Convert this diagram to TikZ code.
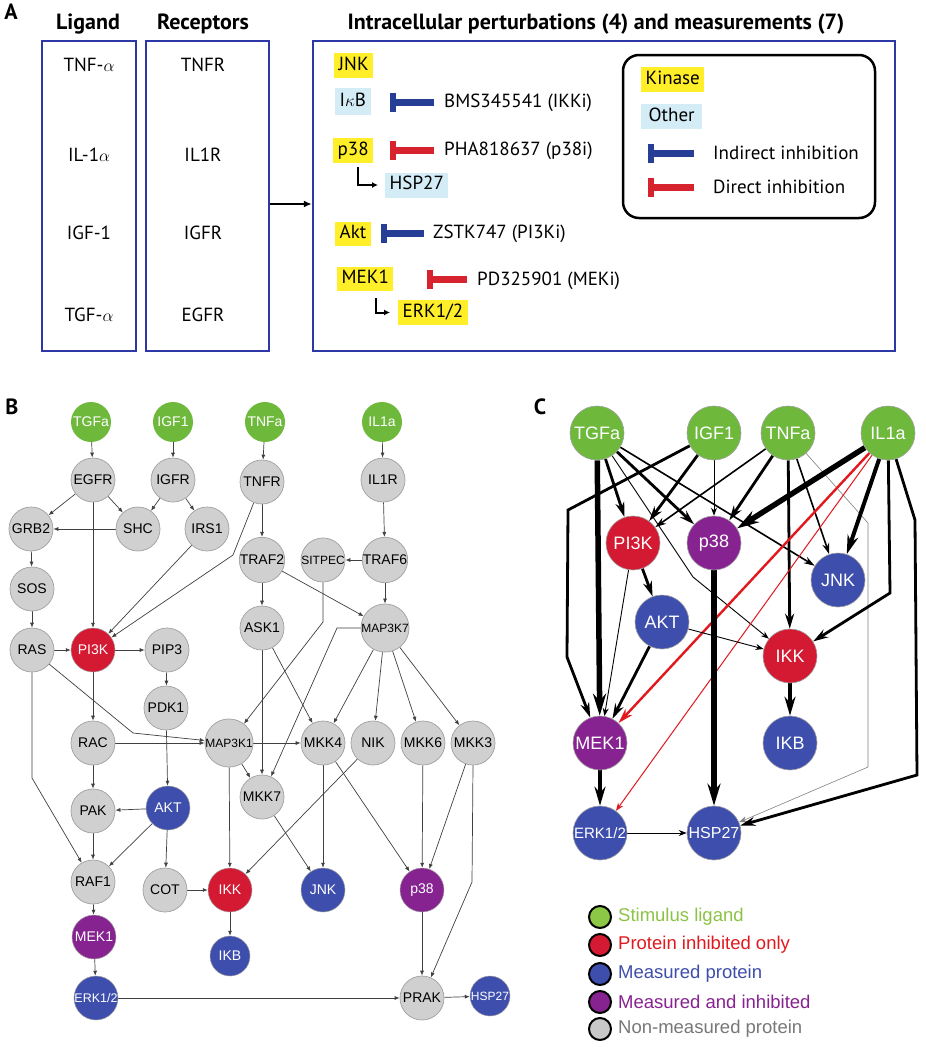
\documentclass[tikz,border=0pt]{standalone}
\usepackage{fontspec}
\setmainfont{Liberation Sans}
\newfontfamily\pts{PT Sans}
\usetikzlibrary{arrows.meta}
\pgfdeclarelayer{paper}
\pgfdeclarelayer{edgelayer}
\pgfsetlayers{paper,edgelayer,main}
\newcommand\myfs[1]{\fontsize{#1}{#1}\selectfont}
\definecolor{abox}{RGB}{45,55,165}
\definecolor{kyellow}{RGB}{255,238,40}
\definecolor{olblue}{RGB}{212,236,246}
\definecolor{tblue}{RGB}{38,62,150}
\definecolor{tred}{RGB}{215,35,45}
\definecolor{ngreen}{RGB}{110,185,60}
\definecolor{ngray}{RGB}{208,208,208}
\definecolor{ngrayd}{RGB}{160,160,160}
\definecolor{nred}{RGB}{212,25,50}
\definecolor{nblue}{RGB}{62,78,172}
\definecolor{npurple}{RGB}{135,35,145}
\definecolor{cred}{RGB}{225,25,30}
\definecolor{lgreen}{RGB}{140,200,70}
\definecolor{lgray}{RGB}{200,200,200}
\definecolor{tgreen}{RGB}{140,195,70}
\definecolor{tgray}{RGB}{120,120,120}
\newcommand\tbar[4]{%
  \fill[#4] (#1,#3-3.5) rectangle (#2,#3+3.5);
  \fill[#4] (#1,#3-9.5) rectangle (#1+6,#3+9.5);}
\tikzset{
  abx/.style={draw=abox, line width=2.5pt, inner sep=0pt},
  atx/.style={font=\pts\myfs{19}, inner sep=0pt},
  ahd/.style={font=\pts\bfseries\myfs{22}, inner sep=0pt},
  plab/.style={font=\pts\bfseries\myfs{22}, inner sep=0pt},
  kin/.style={fill=kyellow, font=\pts\myfs{19}, inner xsep=4.5pt, inner ysep=0pt, minimum height=25pt, text height=13.5pt, text depth=4pt},
  oth/.style={kin, fill=olblue},
  bnode/.style={circle, inner sep=0pt, minimum size=44pt, font=\myfs{14}},
  bgray/.style={bnode, fill=ngray, draw=ngrayd, line width=0.7pt, text=black},
  bgreen/.style={bnode, fill=ngreen, minimum size=40pt, text=white},
  bred/.style={bnode, fill=nred, draw=ngrayd, line width=0.5pt, text=white},
  bblue/.style={bnode, fill=nblue, draw=ngrayd, line width=0.5pt, text=white},
  bpurple/.style={bnode, fill=npurple, draw=ngrayd, line width=0.5pt, text=white},
  barr/.style={-{Latex[length=5pt,width=4pt]}, line width=0.7pt, draw=black!75},
  cnode/.style={circle, inner sep=0pt, minimum size=54pt, font=\myfs{18}, text=white, draw=ngrayd, line width=0.6pt},
  c1/.style={line width=0.9pt, -{Stealth[length=8pt,width=6pt]}},
  c2/.style={line width=1.6pt, -{Stealth[length=11pt,width=7pt]}},
  c3/.style={line width=2.8pt, -{Stealth[length=15pt,width=9pt]}},
  c4/.style={line width=4pt, -{Stealth[length=19pt,width=11pt]}},
  c5/.style={line width=5.5pt, -{Stealth[length=22pt,width=13pt]}},
  lgc/.style={circle, minimum size=22pt, inner sep=0pt, draw=black, line width=2pt},
  lgt/.style={anchor=west, font=\myfs{18.5}, inner sep=0pt}
}
\begin{document}
\begin{tikzpicture}[x=1pt,y=-1pt]
\useasboundingbox (0,0) rectangle (926,1050);
\begin{pgfonlayer}{paper}
\fill[white] (0,0) rectangle (926,1050);
\end{pgfonlayer}

% ================= Panel A =================
\node[plab] (labA) at (11,12) {A};
\node[ahd] (hLig) at (88,24) {Ligand};
\node[ahd] (hRec) at (203,24) {Receptors};
\node[ahd] (hInt) at (596,24) {Intracellular perturbations (4) and measurements (7)};

\node[abx, minimum width=94pt, minimum height=310pt] (ligbox) at (89,196) {};
\node[abx, minimum width=123pt, minimum height=310pt] (recbox) at (207.5,196) {};
\node[abx, minimum width=582pt, minimum height=310pt] (mainbox) at (604,196) {};
\draw[line width=2pt, -{Latex[length=8pt,width=7pt]}] ([yshift=-8pt]recbox.east) -- ([yshift=-8pt]mainbox.west);

\node[atx] (l1) at (89,65) {TNF-$\alpha$};
\node[atx] (l2) at (89,155) {IL-1$\alpha$};
\node[atx] (l3) at (89,233) {IGF-1};
\node[atx] (l4) at (89,315) {TGF-$\alpha$};
\node[atx] (r1) at (203,65) {TNFR};
\node[atx] (r2) at (203,155) {IL1R};
\node[atx] (r3) at (203,233) {IGFR};
\node[atx] (r4) at (203,315) {EGFR};

\node[kin, anchor=west] (aJNK) at (334,65.5) {JNK};
\node[oth, anchor=west, minimum height=27pt] (aIkB) at (335,101.5) {I$\kappa$B};
\tbar{390}{434}{102}{tblue}
\node[atx, anchor=west] (dBMS) at (444,103) {BMS345541 (IKKi)};
\node[kin, anchor=west] (ap38) at (333,150.5) {p38};
\tbar{390}{434}{150}{tred}
\node[atx, anchor=west] (dPHA) at (444,151) {PHA818637 (p38i)};
\node[oth, anchor=west] (aHSP) at (385,185) {HSP27};
\draw[line width=2pt, -{Latex[length=6pt,width=6pt]}, shorten <=4pt, shorten >=7pt] ([xshift=5pt]ap38.south) |- (aHSP.west);
\node[kin, anchor=west, minimum height=24pt] (aAkt) at (335,233.5) {Akt};
\tbar{381}{424}{233}{tblue}
\node[atx, anchor=west] (dZST) at (433,234) {ZSTK747 (PI3Ki)};
\node[kin, anchor=west, minimum height=24pt] (aMEK) at (337,279) {MEK1};
\tbar{427}{467}{279}{tred}
\node[atx, anchor=west] (dPD) at (477,281) {PD325901 (MEKi)};
\node[kin, anchor=west] (aERK) at (398,312.5) {ERK1/2};
\draw[line width=2pt, -{Latex[length=6pt,width=6pt]}, shorten <=7pt, shorten >=8pt] ([xshift=11pt]aMEK.south) |- (aERK.west);

\node[draw=black, line width=2.5pt, rounded corners=16pt, minimum width=252pt, minimum height=163pt, inner sep=0pt] (legA) at (749,136.5) {};
\node[kin, anchor=west, minimum width=61pt] (kKin) at (641,79.5) {Kinase};
\node[oth, anchor=west, minimum width=61pt] (kOth) at (641,116.5) {Other};
\tbar{648}{694}{153}{tblue}
\node[atx, anchor=west] (kInd) at (713,153) {Indirect inhibition};
\tbar{648}{694}{187}{tred}
\node[atx, anchor=west] (kDir) at (713,187) {Direct inhibition};

% ================= Panel B =================
\node[plab] (labB) at (12,407) {B};
\node[bgreen] (bTGFa) at (91,422) {TGFa};
\node[bgreen] (bIGF1) at (173,422) {IGF1};
\node[bgreen] (bTNFa) at (265,422) {TNFa};
\node[bgreen] (bIL1a) at (382,422) {IL1a};
\node[bgray] (bEGFR) at (93,480) {EGFR};
\node[bgray] (bIGFR) at (173,480) {IGFR};
\node[bgray] (bTNFR) at (262,482) {TNFR};
\node[bgray] (bIL1R) at (383,480) {IL1R};
\node[bgray] (bGRB2) at (31,529) {GRB2};
\node[bgray] (bSHC) at (138,529) {SHC};
\node[bgray] (bIRS1) at (207,529) {IRS1};
\node[bgray] (bTRAF2) at (262,560) {TRAF2};
\node[bgray, font=\myfs{12}] (bSITPEC) at (323,560) {SITPEC};
\node[bgray] (bTRAF6) at (385,560) {TRAF6};
\node[bgray] (bSOS) at (32,589) {SOS};
\node[bgray] (bASK1) at (262,628) {ASK1};
\node[bgray, font=\myfs{12}, minimum size=46pt] (bMAP3K7) at (385,628) {MAP3K7};
\node[bgray] (bRAS) at (32,650) {RAS};
\node[bred] (bPI3K) at (93,650) {PI3K};
\node[bgray] (bPIP3) at (167,650) {PIP3};
\node[bgray] (bPDK1) at (166,708) {PDK1};
\node[bgray] (bRAC) at (93,743) {RAC};
\node[bgray, font=\myfs{12}, minimum size=46pt] (bMAP3K1) at (229,743) {MAP3K1};
\node[bgray] (bMKK4) at (323,743) {MKK4};
\node[bgray] (bNIK) at (373,743) {NIK};
\node[bgray] (bMKK6) at (423,743) {MKK6};
\node[bgray] (bMKK3) at (473,743) {MKK3};
\node[bgray] (bMKK7) at (262,797) {MKK7};
\node[bgray] (bPAK) at (93,811) {PAK};
\node[bblue] (bAKT) at (168,808) {AKT};
\node[bgray] (bRAF1) at (93,882) {RAF1};
\node[bgray] (bCOT) at (165,890) {COT};
\node[bred] (bIKK) at (230,890) {IKK};
\node[bblue] (bJNK) at (323,890) {JNK};
\node[bpurple] (bp38) at (422,890) {p38};
\node[bpurple] (bMEK1) at (94,937) {MEK1};
\node[bblue, minimum size=40pt] (bIKB) at (230,956) {IKB};
\node[bblue, font=\myfs{12.5}] (bERK) at (96,998) {ERK1/2};
\node[bgray] (bPRAK) at (422,998) {PRAK};
\node[bblue, minimum size=40pt, font=\myfs{12}] (bHSP27) at (490,996) {HSP27};

\begin{pgfonlayer}{edgelayer}
\draw[barr] (bTGFa) -- (bEGFR);
\draw[barr] (bIGF1) -- (bIGFR);
\draw[barr] (bTNFa) -- (bTNFR);
\draw[barr] (bIL1a) -- (bIL1R);
\draw[barr] (bEGFR) -- (bGRB2);
\draw[barr] (bEGFR) -- (bSHC);
\draw[barr] (bEGFR) -- (bPI3K);
\draw[barr] (bIGFR) -- (bSHC);
\draw[barr] (bIGFR) -- (bIRS1);
\draw[barr] (bSHC) -- (bGRB2);
\draw[barr] (bGRB2) -- (bSOS);
\draw[barr] (bSOS) -- (bRAS);
\draw[barr] (bIRS1) -- (bPI3K);
\draw[barr] (bTNFR) -- (233,555) -- (bPI3K);
\draw[barr] (bTNFR) -- (bTRAF2);
\draw[barr] (bIL1R) -- (bTRAF6);
\draw[barr] (bTRAF6) -- (bSITPEC);
\draw[barr] (bTRAF6) -- (bMAP3K7);
\draw[barr] (bTRAF2) -- (bMAP3K7);
\draw[barr] (bTRAF2) -- (bASK1);
\draw[barr] (bRAS) -- (bPI3K);
\draw[barr] (bPI3K) -- (bPIP3);
\draw[barr] (bPIP3) -- (bPDK1);
\draw[barr] (bPI3K) -- (bRAC);
\draw[barr] (bRAS) -- (133,733) -- (bMAP3K1);
\draw[barr] (bRAS.south) -- (32,778) -- (bRAF1);
\draw[barr] (bRAC) -- (bMAP3K1);
\draw[barr] (bRAC) -- (bPAK);
\draw[barr] (bPDK1) -- (bAKT);
\draw[barr] (bAKT) -- (bPAK);
\draw[barr] (bAKT) -- (bRAF1);
\draw[barr] (bPAK) -- (bRAF1);
\draw[barr] (bAKT) -- (bCOT);
\draw[barr] (bCOT) -- (bIKK);
\draw[barr] (bRAF1) -- (bMEK1);
\draw[barr] (bMEK1) -- (bERK);
\draw[barr] (bERK) -- (bPRAK);
\draw[barr] (bPRAK) -- (bHSP27);
\draw[barr] (bp38) -- (bPRAK);
\draw[barr] (bMKK3.south) -- (472,882) -- (bPRAK);
\draw[barr] (bMKK3) -- (bp38);
\draw[barr] (bMKK6) -- (bp38);
\draw[barr] (bMKK4) -- (bp38);
\draw[barr] (bMKK4) -- (bJNK);
\draw[barr] (bMKK7) -- (bJNK);
\draw[barr] (bNIK) -- (bIKK);
\draw[barr] (bMAP3K1) -- (bIKK);
\draw[barr] (bMAP3K1) -- (bMKK7);
\draw[barr] (bMAP3K1) -- (bMKK4);
\draw[barr] (bASK1) -- (bMKK7);
\draw[barr] (bASK1) -- (bMKK4);
\draw[barr] (bSITPEC.south) -- (323,622) -- (bMAP3K1);
\draw[barr] (bMAP3K7.west) -- (337,628) -- (bMKK7);
\draw[barr] (bMAP3K7) -- (bMKK4);
\draw[barr] (bMAP3K7) -- (bNIK);
\draw[barr] (bMAP3K7) -- (bMKK6);
\draw[barr] (bMAP3K7) -- (bMKK3);
\draw[barr] (bIKK) -- (bIKB);
\end{pgfonlayer}

% ================= Panel C =================
\node[plab] (labC) at (540,407) {C};
\node[cnode, fill=ngreen] (cTGFa) at (597,433) {TGFa};
\node[cnode, fill=ngreen] (cIGF1) at (714,433) {IGF1};
\node[cnode, fill=ngreen] (cTNFa) at (788,433) {TNFa};
\node[cnode, fill=ngreen] (cIL1a) at (888,433) {IL1a};
\node[cnode, fill=nred] (cPI3K) at (633,543) {PI3K};
\node[cnode, fill=npurple] (cp38) at (714,543) {p38};
\node[cnode, fill=nblue] (cJNK) at (838,580) {JNK};
\node[cnode, fill=nblue] (cAKT) at (662,622) {AKT};
\node[cnode, fill=nred] (cIKK) at (790,656) {IKK};
\node[cnode, fill=npurple] (cMEK1) at (600,743) {MEK1};
\node[cnode, fill=nblue] (cIKB) at (790,743) {IKB};
\node[cnode, fill=nblue, font=\myfs{15}] (cERK) at (600,833) {ERK1/2};
\node[cnode, fill=nblue, font=\myfs{16}] (cHSP27) at (714,833) {HSP27};

\begin{pgfonlayer}{edgelayer}
\draw[c1, draw=gray, line width=0.6pt] (cTNFa) -- (868,523) -- (868,767) -- (cHSP27);
\draw[c5] (cTGFa) -- (cMEK1);
\draw[c3] (cTGFa) -- (cPI3K);
\draw[c3] (cTGFa) -- (cp38);
\draw[c2] (cTGFa) -- (cJNK);
\draw[c1] (cTGFa) -- (693,577) -- (cIKK);
\draw[c3] (cIGF1) -- (cPI3K);
\draw[c1] (cIGF1) -- (cp38);
\draw[c3] (cIGF1) -- (568,510) -- (567,657) -- (cMEK1);
\draw[c2] (cTNFa) -- (cPI3K);
\draw[c3] (cTNFa) -- (cp38);
\draw[c3] (cTNFa) -- (cIKK);
\draw[c2] (cTNFa) -- (cJNK);
\draw[c5] (cIL1a) -- (cp38);
\draw[c4] (cIL1a) -- (cJNK);
\draw[c3] (cIL1a) -- (890,593) -- (cIKK);
\draw[c3] (cIL1a) -- (915,520) -- (917,775) -- (cHSP27);
\draw[c3, draw=cred, line width=2.4pt] (cIL1a) -- (cMEK1);
\draw[c1, draw=cred, line width=1pt] (cIL1a) -- (cERK);
\draw[c3] (cPI3K) -- (cAKT);
\draw[c1] (cPI3K) -- (cMEK1);
\draw[c5] (cp38) -- (cHSP27);
\draw[c3] (cAKT) -- (cMEK1);
\draw[c1] (cAKT) -- (cIKK);
\draw[c4] (cIKK) -- (cIKB);
\draw[c4] (cMEK1) -- (cERK);
\draw[c1] (cERK) -- (cHSP27);
\end{pgfonlayer}

% legend C
\node[lgc, fill=lgreen] (g1) at (600,917) {};
\node[lgt, text=tgreen] (t1) at (618,917) {Stimulus ligand};
\node[lgc, fill=nred] (g2) at (600,945) {};
\node[lgt, text=cred] (t2) at (618,945) {Protein inhibited only};
\node[lgc, fill=nblue] (g3) at (600,974) {};
\node[lgt, text=nblue] (t3) at (618,974) {Measured protein};
\node[lgc, fill=npurple] (g4) at (600,1002) {};
\node[lgt, text=npurple] (t4) at (618,1002) {Measured and inhibited};
\node[lgc, fill=lgray] (g5) at (600,1029) {};
\node[lgt, text=tgray] (t5) at (618,1029) {Non-measured protein};
\end{tikzpicture}
\end{document}
